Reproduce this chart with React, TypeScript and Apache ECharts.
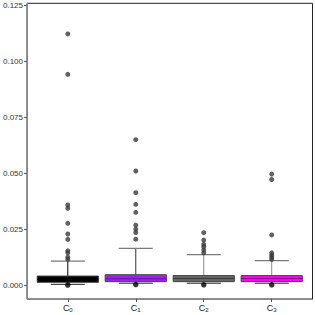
import React, { useEffect, useRef } from "react";
import * as echarts from "echarts";

const categories = ["0", "1", "2", "3"];
const boxFill = ["#000000", "#A020F0", "#666666", "#FF00FF"];
const medianColor = ["#000000", "#5c1a8a", "#3a3a3a", "#8b008b"];
const whiskerColor = ["#000000", "#333333", "#888888", "#888888"];
const q1 = [0.0012, 0.0015, 0.0015, 0.0015];
const median = [0.0025, 0.0028, 0.0029, 0.0029];
const q3 = [0.004, 0.0046, 0.0042, 0.0042];
const whiskerLow = [0.0003, 0.0008, 0.0008, 0.0008];
const whiskerHigh = [0.0107, 0.0164, 0.0136, 0.0109];
const outliers = [
  [0.1123, 0.0942, 0.0358, 0.0343, 0.0276, 0.0228, 0.0204, 0.0153, 0.0144, 0.0124, 0.0115],
  [0.065, 0.051, 0.0413, 0.0361, 0.0325, 0.0268, 0.025, 0.0235, 0.0205],
  [0.0234, 0.0201, 0.0182, 0.0171, 0.0157, 0.0144],
  [0.0496, 0.0472, 0.0224, 0.0144, 0.0134, 0.0124, 0.0115],
];
const lowDots = [0.0, 0.0002, 0.0001, 0.0001];
const yTicks = [0, 0.025, 0.05, 0.075, 0.1, 0.125];
const xTicks = [0, 1, 2, 3];

export default function App() {
  const ref = useRef<HTMLDivElement>(null);
  useEffect(() => {
    const chart = echarts.init(ref.current!, null, { renderer: "svg" });
    const boxData = categories.map((_, i) => [i, whiskerLow[i], q1[i], median[i], q3[i], whiskerHigh[i]]);
    const outData: number[][] = [];
    outliers.forEach((arr, i) => arr.forEach((v) => outData.push([i, v])));
    const lowData = lowDots.map((v, i) => [i, v]);
    chart.setOption({
      animation: false,
      grid: {
        left: 26.5,
        right: 2.5,
        top: 3.3,
        bottom: 16,
        show: true,
        borderColor: "#222",
        borderWidth: 1,
        backgroundColor: "#fff",
      },
      xAxis: {
        type: "value",
        min: -0.6,
        max: 3.6,
        splitLine: { show: false },
        axisLine: { show: true, onZero: false, lineStyle: { color: "#888", width: 1 } },
        axisTick: { show: true, customValues: xTicks, length: 3, lineStyle: { color: "#555" } },
        axisLabel: {
          customValues: xTicks,
          margin: 3,
          formatter: (v: number) => `{c|C}{s|${categories[Math.round(v)]}}`,
          rich: {
            c: { fontSize: 9, color: "#222", fontFamily: "Liberation Sans" },
            s: { fontSize: 6, color: "#222", fontFamily: "Liberation Sans", padding: [5, 0, 0, 0] },
          },
        },
      },
      yAxis: {
        type: "value",
        min: -0.00626,
        max: 0.126,
        splitLine: { show: false },
        axisLine: { show: true, onZero: false, lineStyle: { color: "#888", width: 1 } },
        axisTick: { show: true, customValues: yTicks, length: 3, lineStyle: { color: "#555" } },
        axisLabel: {
          customValues: yTicks,
          margin: 4,
          fontSize: 8,
          color: "#333",
          fontFamily: "Liberation Sans",
          formatter: (v: number) => v.toFixed(3),
        },
      },
      series: [
        {
          type: "custom",
          data: boxData,
          renderItem: (params: any, api: any) => {
            const i = api.value(0);
            const bw = api.size([0.9, 0])[0];
            const cw = api.size([0.5, 0])[0];
            const pLow = api.coord([i, api.value(1)]);
            const pQ1 = api.coord([i, api.value(2)]);
            const pMed = api.coord([i, api.value(3)]);
            const pQ3 = api.coord([i, api.value(4)]);
            const pHigh = api.coord([i, api.value(5)]);
            const cx = pLow[0];
            return {
              type: "group",
              children: [
                { type: "line", shape: { x1: cx, y1: pLow[1], x2: cx, y2: pHigh[1] }, style: { stroke: whiskerColor[i], lineWidth: 1 } },
                { type: "line", shape: { x1: cx - cw / 2, y1: pHigh[1], x2: cx + cw / 2, y2: pHigh[1] }, style: { stroke: "#7a7a7a", lineWidth: 1.1 } },
                { type: "line", shape: { x1: cx - cw / 2, y1: pLow[1], x2: cx + cw / 2, y2: pLow[1] }, style: { stroke: "#222", lineWidth: 1 } },
                { type: "rect", shape: { x: cx - bw / 2, y: pQ3[1], width: bw, height: pQ1[1] - pQ3[1] }, style: { fill: boxFill[i], stroke: "#444", lineWidth: 1 } },
                { type: "line", shape: { x1: cx - bw / 2, y1: pMed[1], x2: cx + bw / 2, y2: pMed[1] }, style: { stroke: medianColor[i], lineWidth: 1.2 } },
              ],
            };
          },
          z: 2,
        },
        {
          type: "scatter",
          data: outData,
          symbolSize: 5,
          itemStyle: { color: "#3a3a3a" },
          z: 3,
        },
        {
          type: "scatter",
          data: lowData,
          symbolSize: 5.5,
          itemStyle: { color: "#000" },
          z: 4,
        },
      ],
    });
    return () => chart.dispose();
  }, []);
  return <div ref={ref} style={{ width: 315, height: 315, position: "fixed", left: 0, top: 0, background: "#fff" }} />;
}
